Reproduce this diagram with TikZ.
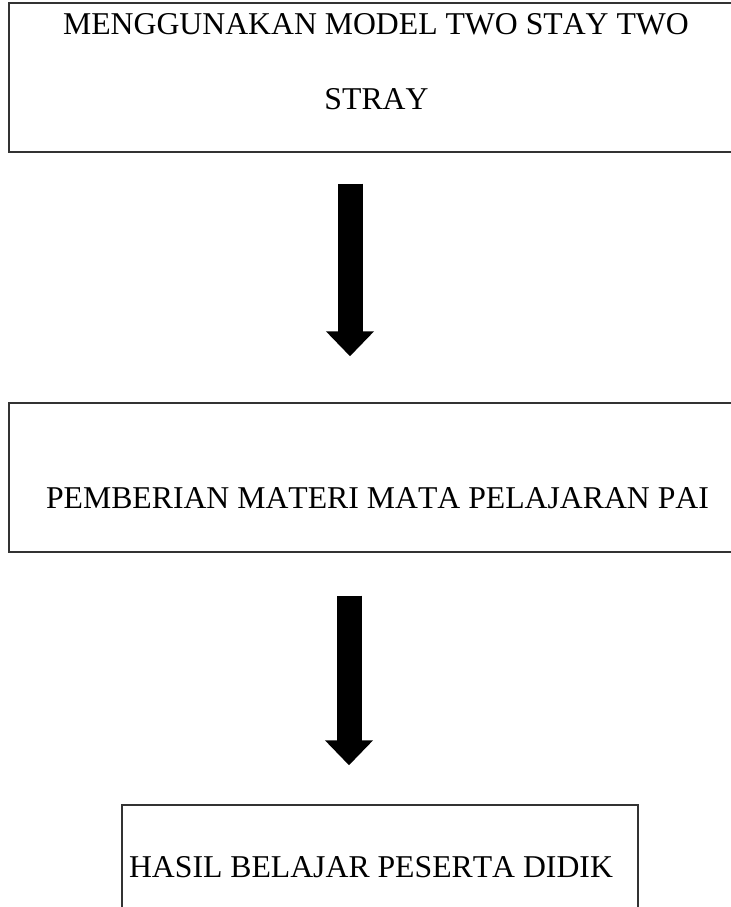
\documentclass[tikz,border=0pt]{standalone}
\usepackage{fontspec}
\setmainfont{Liberation Serif}[Kerning=Off]
\usetikzlibrary{arrows.meta,fit}
\begin{document}
\begin{tikzpicture}[x=0.75pt,y=-0.75pt,
  box/.style={draw=black!80,line width=1.1pt,inner sep=0pt,fill=none},
  lbl/.style={anchor=base,inner sep=0pt,font=\fontsize{23.8}{29}\selectfont},
  bigarrow/.style={line width=18.75pt,-{Triangle[length=18.75pt,width=35pt]}}]
\useasboundingbox (0,0) rectangle (731,907);
\clip (0,0) rectangle (731,907);
\node[box,fit={(9,3) (760,152)}] (top) {};
\node[box,fit={(9,403) (760,552)}] (mid) {};
\node[box,fit={(122,805) (638,940)}] (bot) {};
\node[lbl] (t1) at (376,34.5) {MENGGUNAKAN MODEL TWO STAY TWO};
\node[lbl] (t2) at (376.5,109.5) {STRAY};
\node[lbl] (t3) at (377.5,508) {PEMBERIAN MATERI MATA PELAJARAN PAI};
\node[lbl] (t4) at (371,877) {HASIL BELAJAR PESERTA DIDIK};
\coordinate (a1s) at (top.south -| 350,0);
\coordinate (a1e) at (mid.north -| 350,0);
\coordinate (a2s) at (mid.south -| 349,0);
\coordinate (a2e) at (bot.north -| 349,0);
\draw[bigarrow] ([yshift=-31*0.75pt]a1s) -- ([yshift=46*0.75pt]a1e);
\draw[bigarrow] ([yshift=-43*0.75pt]a2s) -- ([yshift=39*0.75pt]a2e);
\end{tikzpicture}
\end{document}
